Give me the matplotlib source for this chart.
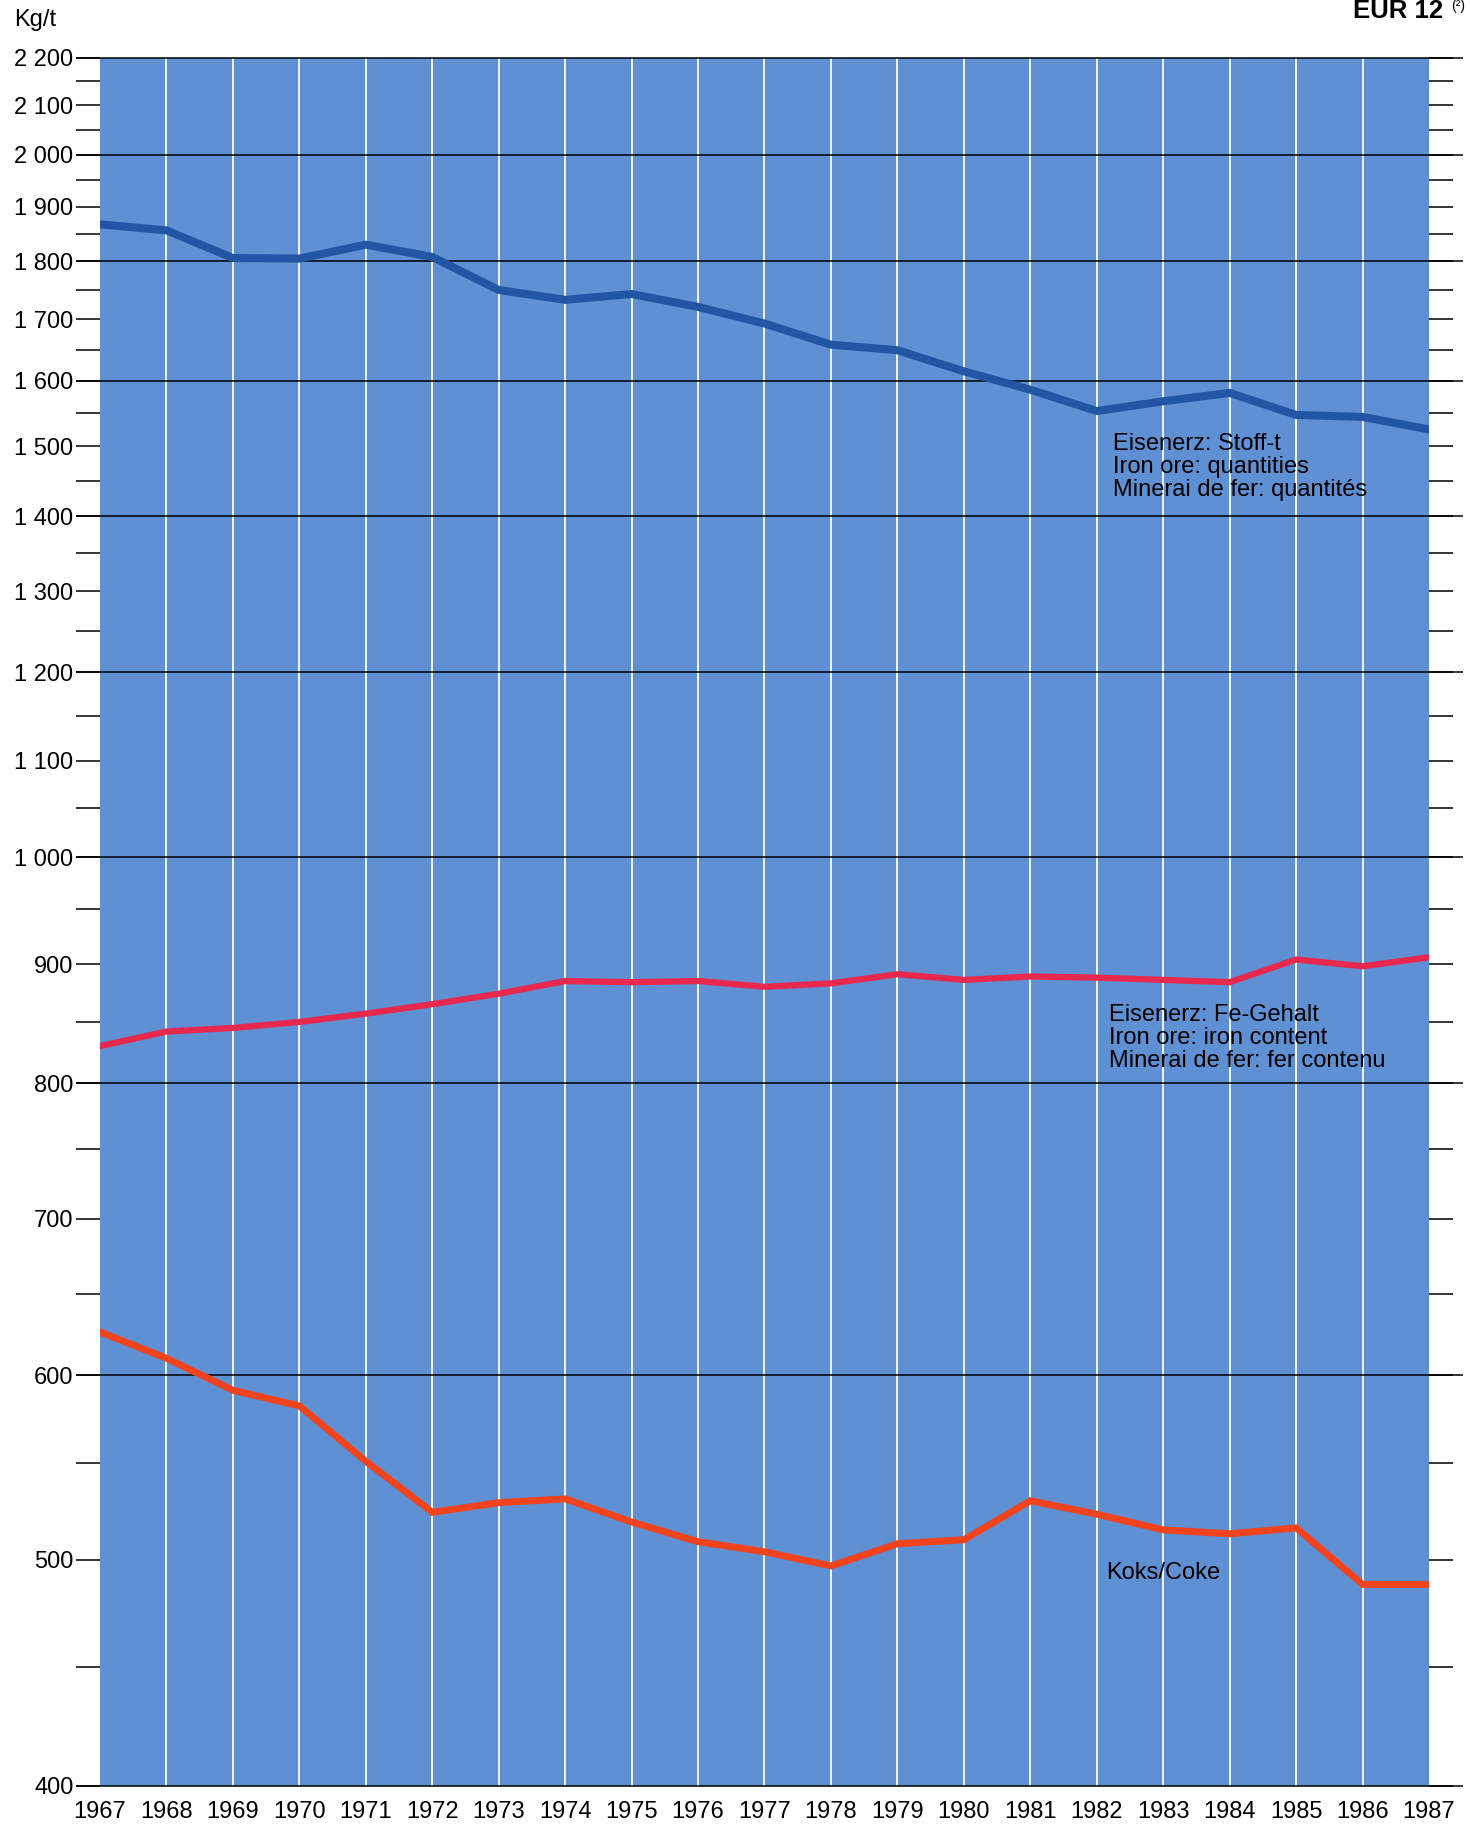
import matplotlib.pyplot as plt

plt.rcParams['font.family'] = ['Liberation Sans', 'DejaVu Sans']

# data (log scale, kg per tonne of pig iron)
years = list(range(1967, 1988))
ore_qty = [1867, 1856, 1806, 1805, 1830, 1808, 1750, 1733, 1743, 1721, 1693,
           1658, 1649, 1615, 1586, 1553, 1568, 1581, 1547, 1544, 1525]
fe_content = [830, 842, 845, 850, 857, 865, 874, 885, 884, 885, 880,
              883, 891, 886, 889, 888, 886, 884, 904, 898, 906]
coke = [626, 610, 591, 582, 551, 524, 529, 531, 519, 509, 504,
        497, 508, 510, 530, 523, 515, 513, 516, 488, 488]

y_ticks = list(range(400, 2201, 50))
y_labelled = list(range(400, 2201, 100))
y_grid = list(range(400, 2201, 200))

W, H = 1470, 1834
fig = plt.figure(figsize=(W / 100, H / 100), dpi=100)
left, right, top, bottom = 100, 1429, 58, 1786
ax = fig.add_axes([left / W, 1 - bottom / H, (right - left) / W, (bottom - top) / H])
ax.set_facecolor('#5e90d3')

ax.set_yscale('log')
ax.set_ylim(400, 2200)
ax.set_xlim(1967, 1987)

# white year lines
for yr in years[1:-1]:
    ax.axvline(yr, color='white', lw=1.3, zorder=1)

# black horizontal lines every 200, running past both edges
ax.hlines(y_grid, -24 / (right - left), 1 + 34 / (right - left), color='black', lw=1.1,
          transform=ax.get_yaxis_transform(), clip_on=False, zorder=2)

ax.plot(years, ore_qty, color='#2355a5', lw=5.8, solid_joinstyle='miter', zorder=4)
ax.plot(years, fe_content, color='#e8284c', lw=4.5, solid_joinstyle='miter', zorder=4)
ax.plot(years, coke, color='#f2431f', lw=5.0, solid_joinstyle='miter', zorder=4)

def fmt(v):
    if v not in y_labelled:
        return ''
    return f"{v:,}".replace(',', ' ')

ax.set_yticks(y_ticks)
ax.set_yticklabels([fmt(v) for v in y_ticks])
ax.yaxis.set_minor_locator(plt.NullLocator())
ax.tick_params(axis='y', which='both', left=True, right=True, direction='out',
               length=17.5, width=1.1, labelsize=17, pad=1.5)

ax.set_xticks(years)
ax.set_xticklabels([str(y) for y in years])
ax.tick_params(axis='x', length=0, labelsize=17, pad=11)

for s in ax.spines.values():
    s.set_visible(False)

def ftext(x, y, s, **kw):
    fig.text(x / W, 1 - y / H, s, **kw)

ftext(14, 20, 'Kg/t', fontsize=17, va='center', ha='left')
ftext(1443, 11, 'EUR 12', fontsize=18.5, fontweight='bold', va='center', ha='right')
ftext(1451, 6, '(²)', fontsize=10, va='center', ha='left')

ftext(1113, 467, 'Eisenerz: Stoff-t\nIron ore: quantities\nMinerai de fer: quantités',
      fontsize=17, va='center', ha='left', linespacing=1.05)
ftext(1109, 1038, 'Eisenerz: Fe-Gehalt\nIron ore: iron content\nMinerai de fer: fer contenu',
      fontsize=17, va='center', ha='left', linespacing=1.05)
ftext(1106, 1573, 'Koks/Coke', fontsize=17, va='center', ha='left')

fig.savefig('out.png', dpi=100, facecolor='white')
